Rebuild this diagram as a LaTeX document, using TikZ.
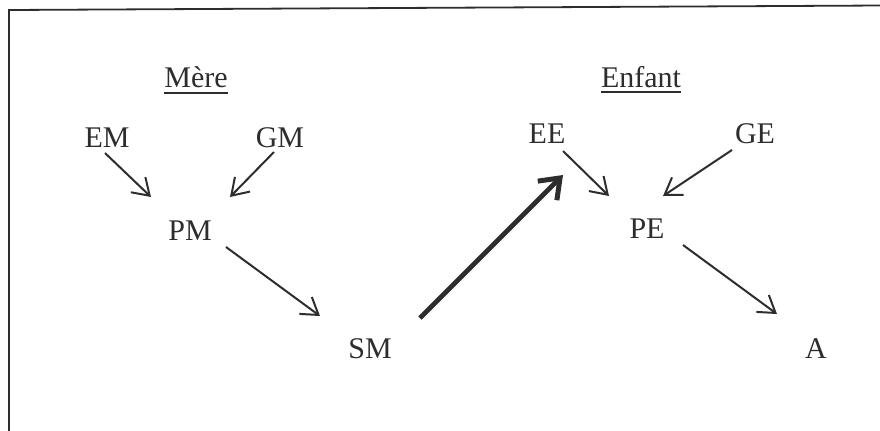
\documentclass[tikz,border=0pt]{standalone}
\usepackage{fontspec}
\setmainfont{Liberation Serif}
\usetikzlibrary{arrows.meta}
\definecolor{ink}{RGB}{45,45,45}
\tikzset{
  lbl/.style={anchor=base, inner sep=0pt, text=ink,
    font=\fontsize{30bp}{36bp}\selectfont},
  thinarrow/.style={draw=ink, line width=2bp,
    -{Straight Barb[length=16bp,width=21bp,line width=2bp]}},
  boldarrow/.style={draw=ink, line width=4.8bp,
    -{Straight Barb[length=18bp,width=27bp,line width=5bp]}},
  frameline/.style={draw=ink, line width=1.8bp},
  uline/.style={draw=ink, line width=1.6bp}
}
\begin{document}
\begin{tikzpicture}[x=1bp,y=-1bp]
  \useasboundingbox (0,0) rectangle (880,430);
  % open frame (top and left edges)
  \draw[frameline] (9,431) -- (9,10) -- (881,5.5);

  % group headings
  \node[lbl] (mere)   at (196,87) {Mère};
  \node[lbl] (enfant) at (641,87) {Enfant};
  \draw[uline] ([yshift=-6bp]mere.base west) -- ([yshift=-6bp]mere.base east);
  \draw[uline] ([yshift=-5bp]enfant.base west) -- ([yshift=-5bp]enfant.base east);

  % mother side
  \node[lbl] (em) at (107,147) {EM};
  \node[lbl] (gm) at (280,147) {GM};
  \node[lbl] (pm) at (190,240) {PM};
  \node[lbl] (sm) at (370,358) {SM};

  % child side
  \node[lbl] (ee) at (547,143) {EE};
  \node[lbl] (ge) at (755,143) {GE};
  \node[lbl] (pe) at (647,238) {PE};
  \node[lbl] (a)  at (816,358) {A};

  % connectors
  \draw[thinarrow] ([shift={(-2,6)}]em.base)  -- ([shift={(-39,-43)}]pm.base);
  \draw[thinarrow] ([shift={(-6,5)}]gm.base)  -- ([shift={(40,-43)}]pm.base);
  \draw[thinarrow] ([shift={(36,7)}]pm.base)  -- ([shift={(-50,-42)}]sm.base);
  \draw[boldarrow] ([shift={(50,-40)}]sm.base) -- ([shift={(16,32)}]ee.base);
  \draw[thinarrow] ([shift={(16,8)}]ee.base)  -- ([shift={(-38,-42)}]pe.base);
  \draw[thinarrow] ([shift={(-23,7)}]ge.base) -- ([shift={(16,-42)}]pe.base);
  \draw[thinarrow] ([shift={(36,7)}]pe.base)  -- ([shift={(-39,-44)}]a.base);
\end{tikzpicture}
\end{document}
